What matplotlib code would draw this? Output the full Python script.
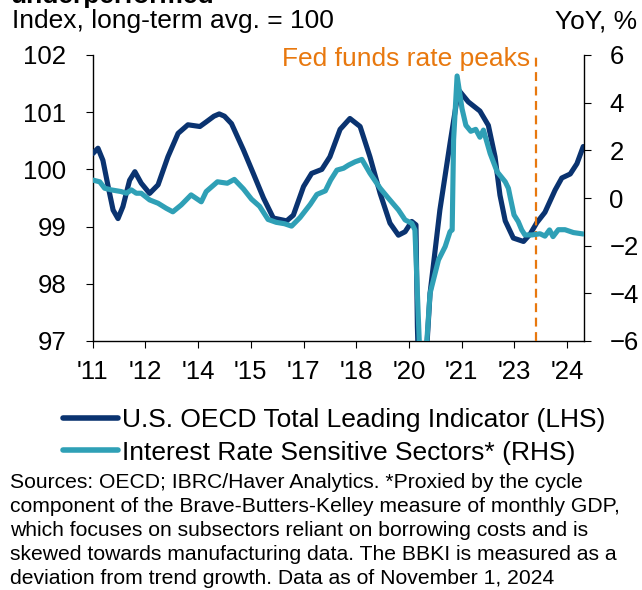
import matplotlib
matplotlib.use("Agg")
import matplotlib.pyplot as plt
from matplotlib.lines import Line2D

plt.rcParams['font.family'] = ['Liberation Sans', 'DejaVu Sans']

# ---- data (decimal years) ----
oecd_t = [2011.01, 2011.15, 2011.29, 2011.44, 2011.58, 2011.72, 2011.86, 2012.05, 2012.20, 2012.38,
          2012.62, 2012.86, 2013.14, 2013.43, 2013.71, 2014.05, 2014.23, 2014.45, 2014.60, 2014.75,
          2014.95, 2015.29, 2015.57, 2015.86, 2016.14, 2016.52, 2016.71, 2017.00, 2017.23, 2017.52,
          2017.75, 2018.04, 2018.32, 2018.61, 2018.89, 2019.18, 2019.46, 2019.70, 2019.89, 2020.08,
          2020.20, 2020.24, 2020.32, 2020.45, 2020.60, 2020.88, 2021.17, 2021.41, 2021.69, 2022.02,
          2022.26, 2022.45, 2022.59, 2022.74, 2022.97, 2023.26, 2023.45, 2023.64, 2023.87, 2024.16,
          2024.35, 2024.59, 2024.78, 2024.96]
oecd_v = [100.28, 100.37, 100.16, 99.70, 99.29, 99.14, 99.35, 99.81, 99.96, 99.76,
          99.58, 99.73, 100.22, 100.63, 100.78, 100.75, 100.83, 100.93, 100.97, 100.93,
          100.80, 100.34, 99.93, 99.50, 99.15, 99.10, 99.20, 99.70, 99.93, 100.00,
          100.22, 100.70, 100.89, 100.75, 100.22, 99.58, 99.06, 98.85, 98.91, 99.09,
          99.03, 97.25, 95.5, 96.3, 97.83, 99.29, 100.46, 101.39, 101.18, 101.02,
          100.77, 100.22, 99.55, 99.10, 98.80, 98.74, 98.87, 99.07, 99.25, 99.64,
          99.85, 99.92, 100.10, 100.40]

rate_t = [2011.01, 2011.20, 2011.34, 2011.53, 2011.81, 2011.96, 2012.10, 2012.24, 2012.38, 2012.62,
          2012.86, 2013.09, 2013.28, 2013.52, 2013.80, 2014.09, 2014.23, 2014.55, 2014.83, 2015.03,
          2015.29, 2015.52, 2015.75, 2015.99, 2016.22, 2016.46, 2016.66, 2016.90, 2017.19, 2017.38,
          2017.62, 2017.77, 2017.95, 2018.14, 2018.28, 2018.47, 2018.66, 2018.89, 2019.18, 2019.41,
          2019.70, 2019.89, 2020.08, 2020.17, 2020.24, 2020.32, 2020.40, 2020.50, 2020.60, 2020.84,
          2021.03, 2021.17, 2021.23, 2021.27, 2021.37, 2021.51, 2021.62, 2021.76, 2021.90, 2022.02,
          2022.12, 2022.31, 2022.51, 2022.74, 2022.83, 2022.88, 2022.99, 2023.11, 2023.21, 2023.30,
          2023.50, 2023.73, 2023.87, 2024.00, 2024.10, 2024.25, 2024.44, 2024.68, 2024.96]
rate_v = [0.75, 0.68, 0.41, 0.34, 0.27, 0.20, 0.34, 0.20, 0.20, -0.08,
          -0.22, -0.43, -0.58, -0.29, 0.13, -0.16, 0.27, 0.68, 0.62, 0.78,
          0.38, -0.05, -0.35, -0.90, -1.02, -1.08, -1.18, -0.82, -0.27, 0.15,
          0.30, 0.75, 1.17, 1.25, 1.38, 1.52, 1.62, 1.04, 0.41, 0.00,
          -0.50, -0.92, -1.06, -1.34, -4.0, -7.0, -7.5, -6.2, -4.0, -2.60,
          -2.04, -1.41, -1.34, 2.43, 5.12, 3.75, 3.05, 2.80, 2.88, 2.55,
          2.85, 1.87, 1.10, 0.68, 0.41, 0.05, -0.71, -0.99, -1.34, -1.55,
          -1.55, -1.50, -1.60, -1.34, -1.62, -1.33, -1.33, -1.45, -1.51]

tick_pos = [2011.0, 2012.5, 2014.0, 2015.5, 2017.0, 2018.5, 2020.0, 2021.5, 2023.0, 2024.5]
tick_lab = ["'11", "'12", "'14", "'15", "'17", "'18", "'20", "'21", "'23", "'24"]
fed_peak = 2023.61

NAVY = '#0A3370'
TEAL = '#2FA0B6'
ORANGE = '#E8780E'
FS_TICK = 18.5
FS = 19

fig = plt.figure(figsize=(6.42, 5.90), dpi=100)
ax = fig.add_axes([92.7/642, 1-341/590, (584.3-92.7)/642, (341-55)/590])
ax2 = ax.twinx()

ax.plot(oecd_t, oecd_v, color=NAVY, lw=3.7, solid_capstyle='round', solid_joinstyle='round', zorder=3)
ax2.plot(rate_t, rate_v, color=TEAL, lw=3.7, solid_capstyle='round', solid_joinstyle='round', zorder=4)
ax2.axvline(fed_peak, color=ORANGE, lw=1.6, ls=(0, (4, 2.5)), zorder=2)

ax.set_xlim(2011.0, 2024.99)
ax.set_ylim(97, 102)
ax2.set_ylim(-6, 6)
ax.set_yticks([97, 98, 99, 100, 101, 102])
ax2.set_yticks([-6, -4, -2, 0, 2, 4, 6])
ax.set_xticks(tick_pos)
ax.set_xticklabels(tick_lab)

for a in (ax, ax2):
    a.spines['top'].set_visible(False)
    for s in ('left', 'right', 'bottom'):
        a.spines[s].set_linewidth(1.0)
ax.spines['right'].set_visible(False)
ax2.spines['left'].set_visible(False)
ax2.spines['bottom'].set_visible(False)

ax.tick_params(axis='y', direction='out', length=5, labelsize=FS_TICK, pad=14)
ax2.tick_params(axis='y', direction='out', length=5, labelsize=FS_TICK, pad=13)
ax.tick_params(axis='x', direction='out', length=5, labelsize=FS_TICK, pad=9)

fig.text(10/642, 1-3/590, 'underperformed', fontsize=FS, fontweight='bold', ha='left', va='baseline')
fig.text(12/642, 1-21/590, 'Index, long-term avg. = 100', fontsize=FS, ha='left', va='center')
fig.text(637/642, 1-21/590, 'YoY, %', fontsize=FS, ha='right', va='center')
ax2.text(fed_peak - 0.15, 5.85, 'Fed funds rate peaks', color=ORANGE, fontsize=FS,
         ha='right', va='center')

handles = [Line2D([], [], color=NAVY, lw=4.0, solid_capstyle='round'),
           Line2D([], [], color=TEAL, lw=4.0, solid_capstyle='round')]
labels = ['U.S. OECD Total Leading Indicator (LHS)', 'Interest Rate Sensitive Sectors* (RHS)']
fig.legend(handles, labels, loc='upper left', bbox_to_anchor=(63/642, 1-408/590),
           frameon=False, fontsize=FS, handlelength=2.1, handletextpad=0.15,
           labelspacing=0.33, borderaxespad=0, borderpad=0)

foot = ("Sources: OECD; IBRC/Haver Analytics. *Proxied by the cycle\n"
        "component of the Brave-Butters-Kelley measure of monthly GDP,\n"
        "which focuses on subsectors reliant on borrowing costs and is\n"
        "skewed towards manufacturing data. The BBKI is measured as a\n"
        "deviation from trend growth. Data as of November 1, 2024")
fig.text(10/642, 1-473/590, foot, fontsize=15.2, ha='left', va='top', linespacing=1.33)

fig.savefig('out.png', dpi=100)
